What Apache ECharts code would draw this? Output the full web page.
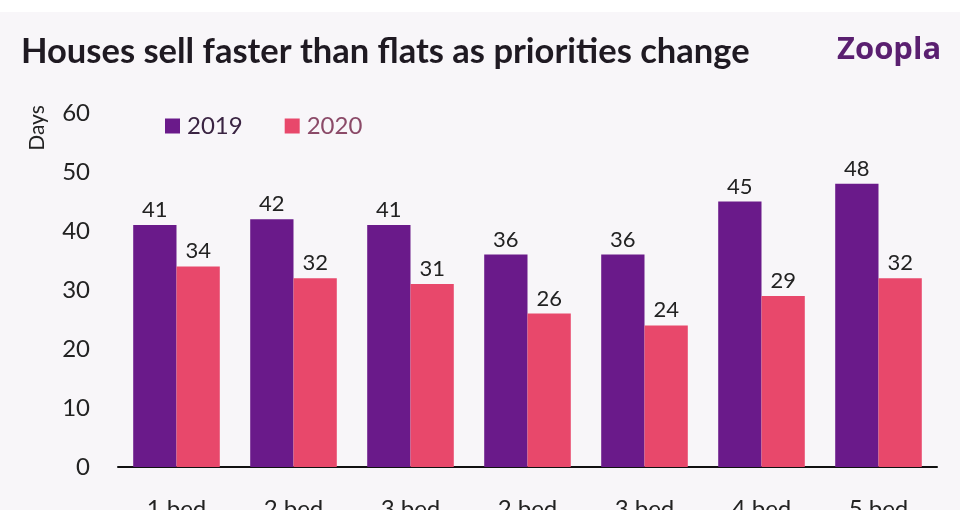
<!DOCTYPE html>
<html><head><meta charset="utf-8">
<script src="https://cdn.jsdelivr.net/npm/echarts@6/dist/echarts.min.js"></script>
<style>html,body{margin:0;padding:0;background:#f8f6f9;}#c{width:960px;height:510px;}</style>
</head><body><div id="c"></div>
<script>
const categories = ['1 bed','2 bed','3 bed','2 bed','3 bed','4 bed','5 bed'];
const values2019 = [41,42,41,36,36,45,48];
const values2020 = [34,32,31,26,24,29,32];
const yTicks = {min:0, max:60, interval:10};

const chart = echarts.init(document.getElementById('c'));
const lbl = {show:true, position:'top', distance:4, fontFamily:'Lato', fontSize:22, color:'#222'};
chart.setOption({
  backgroundColor:'#f8f6f9',
  animation:false,
  graphic:[
    {type:'rect', shape:{x:0,y:0,width:960,height:12}, style:{fill:'#ffffff'}},
    {type:'text', left:21, top:34, style:{text:'Houses sell faster than flats as priorities change', font:'bold 34.5px Lato', fill:'#1f1a22'}},
    {type:'text', left:837, top:35, style:{text:'Zoopla', font:'bold 31px "Open Sans"', fill:'#5a1f70'}},
    {type:'text', x:37, y:128, rotation:Math.PI/2, style:{text:'Days', font:'21px Lato', fill:'#222', align:'center', verticalAlign:'middle'}}
  ],
  legend:{
    left:160, top:109, itemWidth:15, itemHeight:15, itemGap:42, icon:'rect',
    textStyle:{fontFamily:'Lato', fontSize:24, padding:[0,0,0,2]},
    data:[{name:'2019', textStyle:{color:'#3a2442'}},{name:'2020', textStyle:{color:'#8b4a68'}}]
  },
  grid:{left:118, right:23, top:113, bottom:43, containLabel:false, outerBoundsMode:'none'},
  xAxis:{
    type:'category', data:categories,
    axisLine:{lineStyle:{color:'#111', width:2}},
    axisTick:{show:false},
    axisLabel:{fontFamily:'Lato', fontSize:24, color:'#222', margin:30}
  },
  yAxis:{
    type:'value', min:yTicks.min, max:yTicks.max, interval:yTicks.interval,
    splitLine:{show:false}, axisLine:{show:false}, axisTick:{show:false},
    axisLabel:{fontFamily:'Lato', fontSize:24, color:'#222', margin:28}
  },
  series:[
    {name:'2019', type:'bar', data:values2019, barWidth:'37%', barGap:'0%', itemStyle:{color:'#6a1a8a'}, label:lbl},
    {name:'2020', type:'bar', data:values2020, barWidth:'37%', barGap:'0%', itemStyle:{color:'#e8486b'}, label:lbl}
  ]
});
</script></body></html>
